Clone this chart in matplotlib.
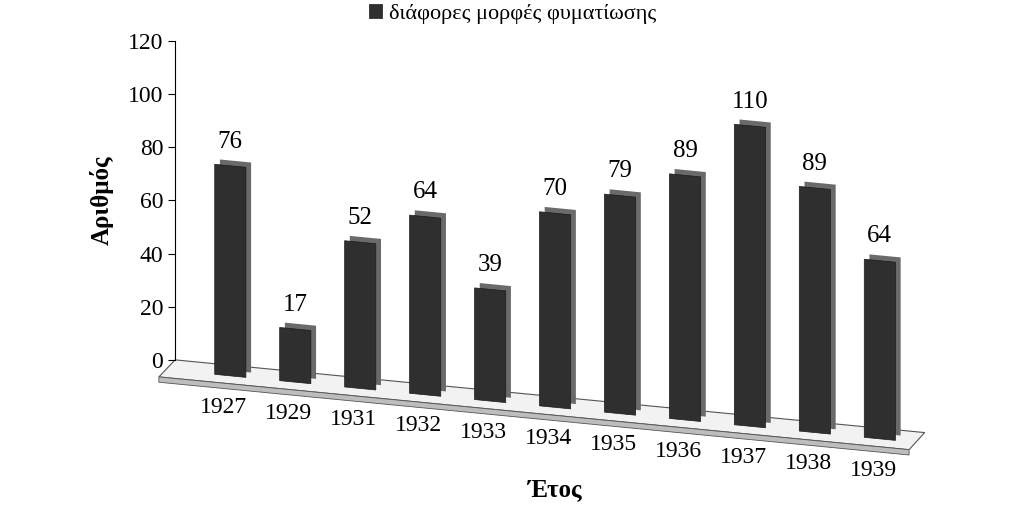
import matplotlib
matplotlib.use("Agg")
import matplotlib.pyplot as plt
from matplotlib.transforms import Affine2D
from matplotlib.patches import Polygon
import numpy as np

years = ["1927", "1929", "1931", "1932", "1933", "1934", "1935", "1936", "1937", "1938", "1939"]
counts = [76, 17, 52, 64, 39, 70, 79, 89, 110, 89, 64]
legend_label = "διάφορες μορφές φυματίωσης"

plt.rcParams["font.family"] = ["Liberation Serif", "DejaVu Serif"]

fig = plt.figure(figsize=(10.24, 5.30), dpi=100)
ax = fig.add_axes([0.171, 0.321, 0.732, 0.602])
ax.set_xlim(-0.85, 10.69)
ax.set_ylim(0, 120)

# perspective-ish shear: things drop as they go right
x0 = fig.bbox.width * 0.171
sk = Affine2D().translate(-x0, 0).skew(0, -np.arctan(0.097)).translate(x0, 0)
tr = ax.transData + sk

# floor
floor = Polygon([(-0.85, 0), (10.69, 0), (10.45, -7), (-1.1, -7)], closed=True,
                facecolor="#f2f2f2", edgecolor="#555555", lw=0.8, transform=tr,
                clip_on=False, zorder=1)
ax.add_patch(floor)
edge = Polygon([(-1.1, -7), (10.45, -7), (10.45, -9), (-1.1, -9)], closed=True,
               facecolor="#bdbdbd", edgecolor="#555555", lw=0.6, transform=tr,
               clip_on=False, zorder=1)
ax.add_patch(edge)

x = np.arange(len(years))
vals = np.array(counts)
ax.bar(x + 0.08, vals + 3, bottom=-2, width=0.48, color="#6a6a6a",
       transform=tr, clip_on=False, zorder=2)
bars = ax.bar(x, vals + 3, bottom=-4, width=0.48, color="#2f2f2f",
              edgecolor="#1a1a1a", lw=0.5, transform=tr, clip_on=False, zorder=3,
              label=legend_label)
for xi, v in zip(x, vals):
    ax.text(xi, v + 4, str(v), ha="center", va="bottom", fontsize=18,
            transform=tr, zorder=4)
for xi, y in zip(x, years):
    ax.text(xi - 0.1, -12, y, ha="center", va="top", fontsize=17, transform=tr)

ax.set_yticks(range(0, 121, 20))
ax.tick_params(axis="y", labelsize=17, length=5)
ax.set_xticks([])
for s in ["top", "right", "bottom"]:
    ax.spines[s].set_visible(False)
ax.spines["left"].set_bounds(0, 120)
ax.set_ylabel("Αριθμός", fontsize=18, fontweight="bold", labelpad=10)
fig.text(0.542, 0.065, "Έτος", ha="center", fontsize=18, fontweight="bold")
ax.legend(handles=[bars], loc="lower center", bbox_to_anchor=(0.45, 0.99),
          frameon=False, fontsize=16, handlelength=0.6, handleheight=0.6,
          handletextpad=0.3)

fig.savefig("out.png", dpi=100)
